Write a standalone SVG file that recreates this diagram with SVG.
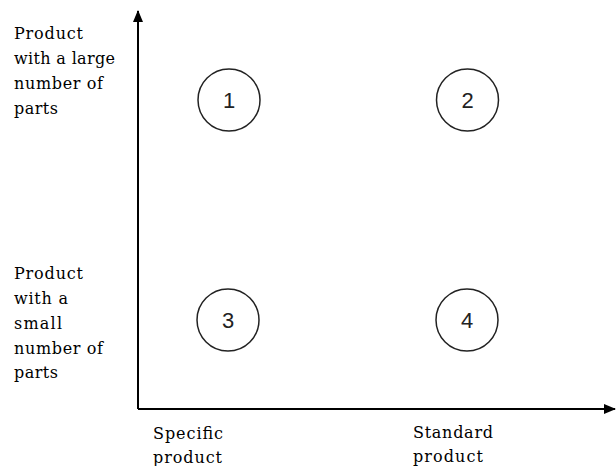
<svg xmlns="http://www.w3.org/2000/svg" width="616" height="466" viewBox="0 0 616 466">
<style>
.lbl{font-family:"DejaVu Serif","Liberation Serif",serif;font-size:16px;fill:#000}
.num{font-family:"Liberation Sans",Arial,sans-serif;font-size:22px;fill:#222;text-anchor:middle}
.c{fill:#fff;stroke:#222;stroke-width:1.5}
.ax{stroke:#000;stroke-width:2;fill:none}
</style>
<defs>
<marker id="ah" viewBox="0 0 12 10" refX="11" refY="5" markerWidth="12" markerHeight="10" markerUnits="userSpaceOnUse" orient="auto">
<path d="M0,0 L12,5 L0,10 Z" fill="#000"/>
</marker>
</defs>
<rect width="616" height="466" fill="#fff"/>
<g id="connectors">
<line class="ax" x1="138" y1="409" x2="138" y2="11" marker-end="url(#ah)"/>
<line class="ax" x1="138" y1="409" x2="615" y2="409" marker-end="url(#ah)"/>
</g>
<g id="node-1"><circle class="c" cx="229" cy="100" r="31"/><text class="num" x="229" y="108">1</text></g>
<g id="node-2"><circle class="c" cx="467.5" cy="100" r="31"/><text class="num" x="467.5" y="108">2</text></g>
<g id="node-3"><circle class="c" cx="228" cy="320" r="31"/><text class="num" x="228" y="328">3</text></g>
<g id="node-4"><circle class="c" cx="467" cy="320" r="31"/><text class="num" x="467" y="328">4</text></g>
<g id="label-large">
<text class="lbl" x="14" y="38.5" textLength="69" lengthAdjust="spacing">Product</text>
<text class="lbl" x="14" y="63.5" textLength="101" lengthAdjust="spacing">with a large</text>
<text class="lbl" x="14" y="88.5" textLength="89" lengthAdjust="spacing">number of</text>
<text class="lbl" x="14" y="113.5" textLength="44" lengthAdjust="spacing">parts</text>
</g>
<g id="label-small">
<text class="lbl" x="14" y="279" textLength="69" lengthAdjust="spacing">Product</text>
<text class="lbl" x="14" y="304" textLength="54" lengthAdjust="spacing">with a</text>
<text class="lbl" x="14" y="328.5" textLength="48" lengthAdjust="spacing">small</text>
<text class="lbl" x="14" y="353.5" textLength="89" lengthAdjust="spacing">number of</text>
<text class="lbl" x="14" y="378" textLength="44" lengthAdjust="spacing">parts</text>
</g>
<g id="label-specific">
<text class="lbl" x="153" y="439" textLength="70" lengthAdjust="spacing">Specific</text>
<text class="lbl" x="153" y="463" textLength="69" lengthAdjust="spacing">product</text>
</g>
<g id="label-standard">
<text class="lbl" x="413" y="438" textLength="80" lengthAdjust="spacing">Standard</text>
<text class="lbl" x="413" y="462" textLength="70" lengthAdjust="spacing">product</text>
</g>
</svg>
